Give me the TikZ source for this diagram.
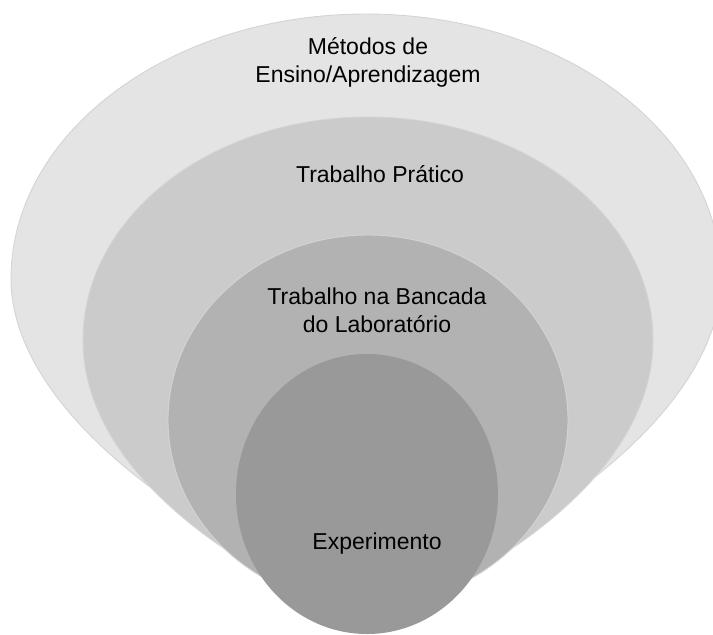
\documentclass[tikz,border=0pt]{standalone}
\usepackage{fontspec}
\setmainfont{Liberation Sans}
\usetikzlibrary{shapes.geometric}

\definecolor{metodos}{HTML}{E4E4E4}
\definecolor{pratico}{HTML}{CBCBCB}
\definecolor{bancada}{HTML}{B2B2B2}
\definecolor{experimento}{HTML}{999999}
\definecolor{rim}{HTML}{D4D4D4}

\tikzset{
  layer/.style={draw=rim, line width=0.9pt},
  layertext/.style={font=\fontsize{23}{28}\selectfont, align=center, inner sep=0pt, text=black},
}

\begin{document}
\begin{tikzpicture}[x=1pt,y=-1pt]
  \useasboundingbox (0,0) rectangle (713,635);
  % outer layers taper into the bottom
  \filldraw[layer, fill=metodos] (366,600) .. controls (170,530) and (11,400) .. (11,279)
    arc[start angle=180, end angle=0, x radius=355pt, y radius=265pt]
    .. controls (721,400) and (562,530) .. (366,600) -- cycle;
  \filldraw[layer, fill=pratico] (368,625) .. controls (190,550) and (83,450) .. (83,340)
    arc[start angle=180, end angle=0, x radius=285pt, y radius=223pt]
    .. controls (653,450) and (546,550) .. (368,625) -- cycle;
  \filldraw[layer, fill=bancada] (368,420) ellipse[x radius=200pt, y radius=185pt];
  \fill[experimento] (367,494) ellipse[x radius=131pt, y radius=140pt];
  % texts
  \node[layertext] (metodos) at (368,62) {Métodos de\\Ensino/Aprendizagem};
  \node[layertext, anchor=base] (pratico) at (380,182) {Trabalho Prático};
  \node[layertext] (bancada) at (377,310) {Trabalho na Bancada\\do Laboratório};
  \node[layertext, anchor=base] (experimento) at (377,549) {Experimento};
\end{tikzpicture}
\end{document}
